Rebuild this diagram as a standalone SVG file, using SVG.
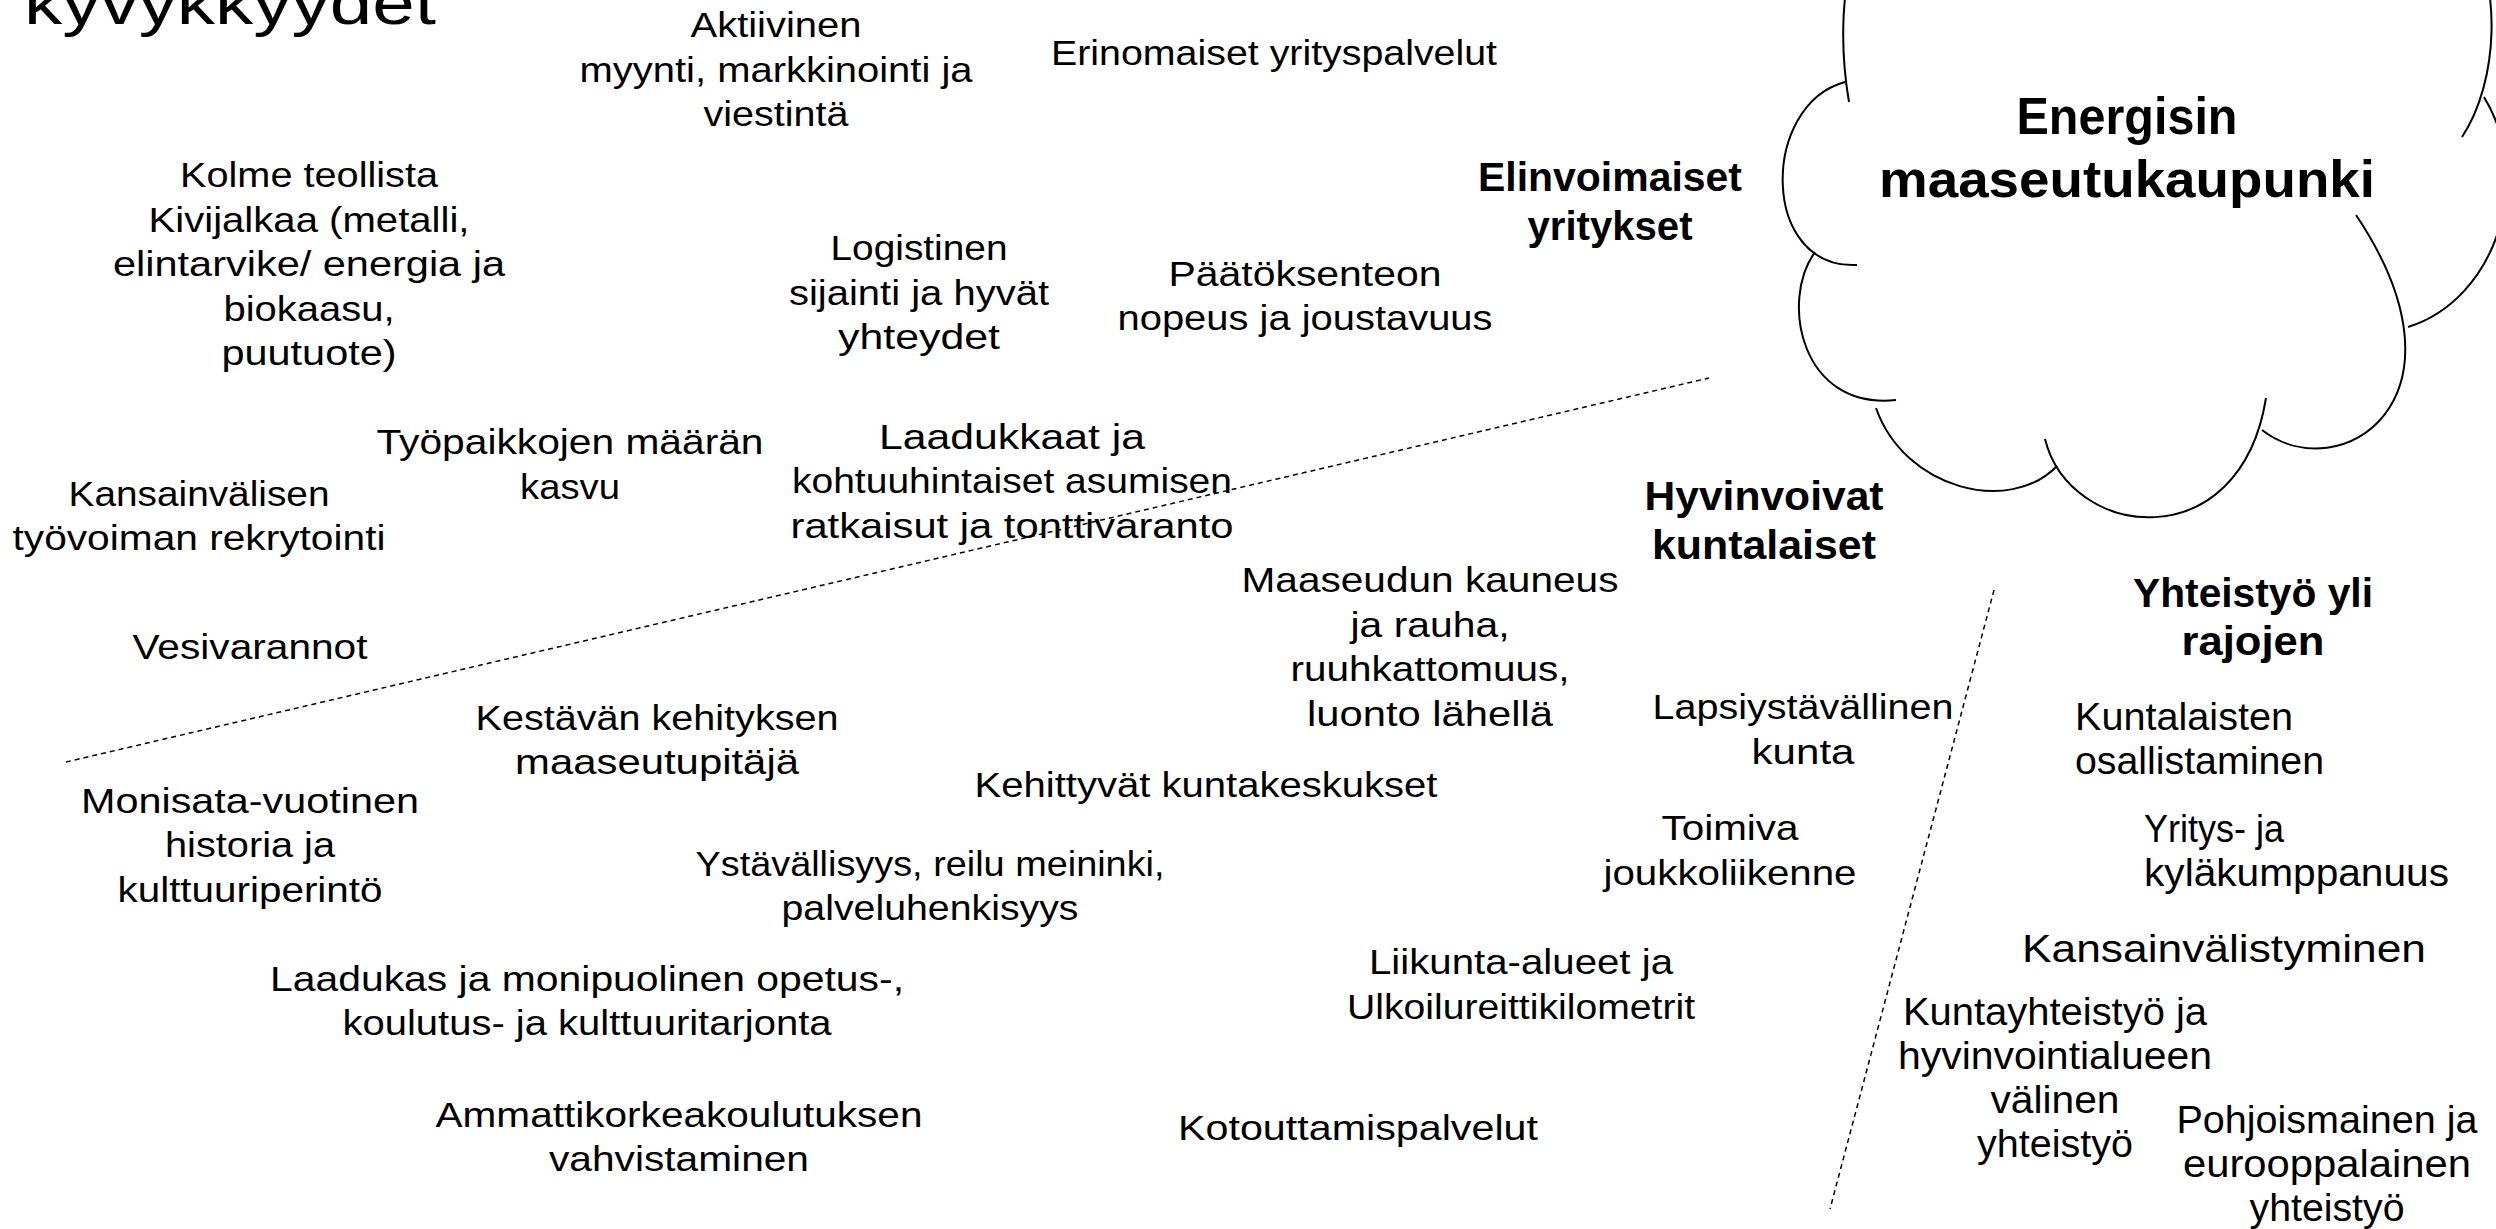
<svg xmlns="http://www.w3.org/2000/svg" width="2496" height="1229" viewBox="0 0 2496 1229">
<style>
text{font-family:"Liberation Sans","DejaVu Sans",sans-serif;fill:#000}
.r{font-size:35px;text-anchor:middle}
.rs{font-size:38px;text-anchor:start}
.rm{font-size:38px;text-anchor:middle}
.b{font-size:40px;font-weight:bold;text-anchor:middle}
.bt{font-size:52px;font-weight:bold;text-anchor:middle}
.ttl{font-size:62px;text-anchor:start}
.cloud{fill:none;stroke:#000;stroke-width:2}
.dash{fill:none;stroke:#000;stroke-width:1.5;stroke-dasharray:5 4}
</style>
<rect width="2496" height="1229" fill="#fff"/>
<g id="connectors">
<line class="dash" x1="66" y1="762" x2="1709" y2="378"/>
<line class="dash" x1="1994" y1="590" x2="1830" y2="1209"/>
</g>
<g id="cloud">
<path class="cloud" d="M2462,137 C2500,80 2500,-20 2470,-60 L1860,-60 C1840,-20 1840,50 1849,102"/>
<path class="cloud" d="M1845,82 C1760,105 1760,270 1857,265"/>
<path class="cloud" d="M1815,252 C1780,300 1800,410 1896,400"/>
<path class="cloud" d="M1876,408 C1905,490 2010,515 2057,466"/>
<path class="cloud" d="M2045,439 C2070,540 2240,560 2266,398"/>
<path class="cloud" d="M2262,430 C2340,490 2480,400 2356,215"/>
<path class="cloud" d="M2484,97 C2535,180 2495,300 2408,327"/>
</g>
<g id="title"><text class="ttl" x="24" y="24" textLength="412" lengthAdjust="spacingAndGlyphs">kyvykkyydet</text></g>
<g id="n-energisin">
<text class="bt" x="2127" y="134" textLength="221" lengthAdjust="spacingAndGlyphs">Energisin</text>
<text class="bt" x="2127" y="197" textLength="496" lengthAdjust="spacingAndGlyphs">maaseutukaupunki</text>
</g>
<g id="n-elinvoimaiset">
<text class="b" x="1610" y="191" textLength="264" lengthAdjust="spacingAndGlyphs">Elinvoimaiset</text>
<text class="b" x="1610" y="240" textLength="165" lengthAdjust="spacingAndGlyphs">yritykset</text>
</g>
<g id="n-hyvinvoivat">
<text class="b" x="1764" y="510" textLength="239" lengthAdjust="spacingAndGlyphs">Hyvinvoivat</text>
<text class="b" x="1764" y="559" textLength="224" lengthAdjust="spacingAndGlyphs">kuntalaiset</text>
</g>
<g id="n-yhteistyo">
<text class="b" x="2253" y="607" textLength="240" lengthAdjust="spacingAndGlyphs">Yhteistyö yli</text>
<text class="b" x="2253" y="655" textLength="143" lengthAdjust="spacingAndGlyphs">rajojen</text>
</g>
<g id="n-aktiivinen">
<text class="r" x="776" y="37" textLength="171" lengthAdjust="spacingAndGlyphs">Aktiivinen</text>
<text class="r" x="776" y="82" textLength="393" lengthAdjust="spacingAndGlyphs">myynti, markkinointi ja</text>
<text class="r" x="776" y="126" textLength="145" lengthAdjust="spacingAndGlyphs">viestintä</text>
</g>
<g id="n-erinomaiset"><text class="r" x="1274" y="65" textLength="446" lengthAdjust="spacingAndGlyphs">Erinomaiset yrityspalvelut</text></g>
<g id="n-kolme">
<text class="r" x="309" y="187" textLength="258" lengthAdjust="spacingAndGlyphs">Kolme teollista</text>
<text class="r" x="309" y="232" textLength="321" lengthAdjust="spacingAndGlyphs">Kivijalkaa (metalli,</text>
<text class="r" x="309" y="276" textLength="392" lengthAdjust="spacingAndGlyphs">elintarvike/ energia ja</text>
<text class="r" x="309" y="321" textLength="171" lengthAdjust="spacingAndGlyphs">biokaasu,</text>
<text class="r" x="309" y="365" textLength="175" lengthAdjust="spacingAndGlyphs">puutuote)</text>
</g>
<g id="n-logistinen">
<text class="r" x="919" y="260" textLength="177" lengthAdjust="spacingAndGlyphs">Logistinen</text>
<text class="r" x="919" y="305" textLength="260" lengthAdjust="spacingAndGlyphs">sijainti ja hyvät</text>
<text class="r" x="919" y="349" textLength="162" lengthAdjust="spacingAndGlyphs">yhteydet</text>
</g>
<g id="n-paatoksenteon">
<text class="r" x="1305" y="286" textLength="273" lengthAdjust="spacingAndGlyphs">Päätöksenteon</text>
<text class="r" x="1305" y="330" textLength="375" lengthAdjust="spacingAndGlyphs">nopeus ja joustavuus</text>
</g>
<g id="n-tyopaikkojen">
<text class="r" x="570" y="454" textLength="387" lengthAdjust="spacingAndGlyphs">Työpaikkojen määrän</text>
<text class="r" x="570" y="499" textLength="100" lengthAdjust="spacingAndGlyphs">kasvu</text>
</g>
<g id="n-kansainvalisen">
<text class="r" x="199" y="506" textLength="261" lengthAdjust="spacingAndGlyphs">Kansainvälisen</text>
<text class="r" x="199" y="550" textLength="373" lengthAdjust="spacingAndGlyphs">työvoiman rekrytointi</text>
</g>
<g id="n-laadukkaat">
<text class="r" x="1012" y="449" textLength="266" lengthAdjust="spacingAndGlyphs">Laadukkaat ja</text>
<text class="r" x="1012" y="493" textLength="440" lengthAdjust="spacingAndGlyphs">kohtuuhintaiset asumisen</text>
<text class="r" x="1012" y="538" textLength="443" lengthAdjust="spacingAndGlyphs">ratkaisut ja tonttivaranto</text>
</g>
<g id="n-vesivarannot"><text class="r" x="250" y="659" textLength="235" lengthAdjust="spacingAndGlyphs">Vesivarannot</text></g>
<g id="n-kestavan">
<text class="r" x="657" y="730" textLength="363" lengthAdjust="spacingAndGlyphs">Kestävän kehityksen</text>
<text class="r" x="657" y="774" textLength="284" lengthAdjust="spacingAndGlyphs">maaseutupitäjä</text>
</g>
<g id="n-monisata">
<text class="r" x="250" y="813" textLength="338" lengthAdjust="spacingAndGlyphs">Monisata-vuotinen</text>
<text class="r" x="250" y="857" textLength="170" lengthAdjust="spacingAndGlyphs">historia ja</text>
<text class="r" x="250" y="902" textLength="265" lengthAdjust="spacingAndGlyphs">kulttuuriperintö</text>
</g>
<g id="n-kehittyvat"><text class="r" x="1206" y="797" textLength="463" lengthAdjust="spacingAndGlyphs">Kehittyvät kuntakeskukset</text></g>
<g id="n-ystavallisyys">
<text class="r" x="930" y="876" textLength="469" lengthAdjust="spacingAndGlyphs">Ystävällisyys, reilu meininki,</text>
<text class="r" x="930" y="920" textLength="297" lengthAdjust="spacingAndGlyphs">palveluhenkisyys</text>
</g>
<g id="n-laadukas">
<text class="r" x="587" y="991" textLength="634" lengthAdjust="spacingAndGlyphs">Laadukas ja monipuolinen opetus-,</text>
<text class="r" x="587" y="1035" textLength="489" lengthAdjust="spacingAndGlyphs">koulutus- ja kulttuuritarjonta</text>
</g>
<g id="n-ammattikorkea">
<text class="r" x="679" y="1127" textLength="487" lengthAdjust="spacingAndGlyphs">Ammattikorkeakoulutuksen</text>
<text class="r" x="679" y="1171" textLength="260" lengthAdjust="spacingAndGlyphs">vahvistaminen</text>
</g>
<g id="n-kotouttamis"><text class="r" x="1358" y="1140" textLength="360" lengthAdjust="spacingAndGlyphs">Kotouttamispalvelut</text></g>
<g id="n-maaseudun">
<text class="r" x="1430" y="592" textLength="377" lengthAdjust="spacingAndGlyphs">Maaseudun kauneus</text>
<text class="r" x="1430" y="637" textLength="159" lengthAdjust="spacingAndGlyphs">ja rauha,</text>
<text class="r" x="1430" y="681" textLength="279" lengthAdjust="spacingAndGlyphs">ruuhkattomuus,</text>
<text class="r" x="1430" y="726" textLength="246" lengthAdjust="spacingAndGlyphs">luonto lähellä</text>
</g>
<g id="n-lapsiystavallinen">
<text class="r" x="1803" y="719" textLength="301" lengthAdjust="spacingAndGlyphs">Lapsiystävällinen</text>
<text class="r" x="1803" y="764" textLength="103" lengthAdjust="spacingAndGlyphs">kunta</text>
</g>
<g id="n-toimiva">
<text class="r" x="1730" y="840" textLength="137" lengthAdjust="spacingAndGlyphs">Toimiva</text>
<text class="r" x="1730" y="885" textLength="253" lengthAdjust="spacingAndGlyphs">joukkoliikenne</text>
</g>
<g id="n-liikunta">
<text class="r" x="1521" y="974" textLength="304" lengthAdjust="spacingAndGlyphs">Liikunta-alueet ja</text>
<text class="r" x="1521" y="1019" textLength="348" lengthAdjust="spacingAndGlyphs">Ulkoilureittikilometrit</text>
</g>
<g id="n-kuntalaisten">
<text class="rs" x="2075" y="730" textLength="218" lengthAdjust="spacingAndGlyphs">Kuntalaisten</text>
<text class="rs" x="2075" y="774" textLength="249" lengthAdjust="spacingAndGlyphs">osallistaminen</text>
</g>
<g id="n-yritys">
<text class="rs" x="2144" y="842" textLength="140" lengthAdjust="spacingAndGlyphs">Yritys- ja</text>
<text class="rs" x="2144" y="886" textLength="305" lengthAdjust="spacingAndGlyphs">kyläkumppanuus</text>
</g>
<g id="n-kansainvalistyminen"><text class="rs" x="2022" y="962" textLength="404" lengthAdjust="spacingAndGlyphs">Kansainvälistyminen</text></g>
<g id="n-kuntayhteistyo">
<text class="rm" x="2055" y="1025" textLength="304" lengthAdjust="spacingAndGlyphs">Kuntayhteistyö ja</text>
<text class="rm" x="2055" y="1069" textLength="314" lengthAdjust="spacingAndGlyphs">hyvinvointialueen</text>
<text class="rm" x="2055" y="1113" textLength="129" lengthAdjust="spacingAndGlyphs">välinen</text>
<text class="rm" x="2055" y="1157" textLength="156" lengthAdjust="spacingAndGlyphs">yhteistyö</text>
</g>
<g id="n-pohjoismainen">
<text class="rm" x="2327" y="1133" textLength="301" lengthAdjust="spacingAndGlyphs">Pohjoismainen ja</text>
<text class="rm" x="2327" y="1177" textLength="288" lengthAdjust="spacingAndGlyphs">eurooppalainen</text>
<text class="rm" x="2327" y="1221" textLength="155" lengthAdjust="spacingAndGlyphs">yhteistyö</text>
</g>
</svg>
